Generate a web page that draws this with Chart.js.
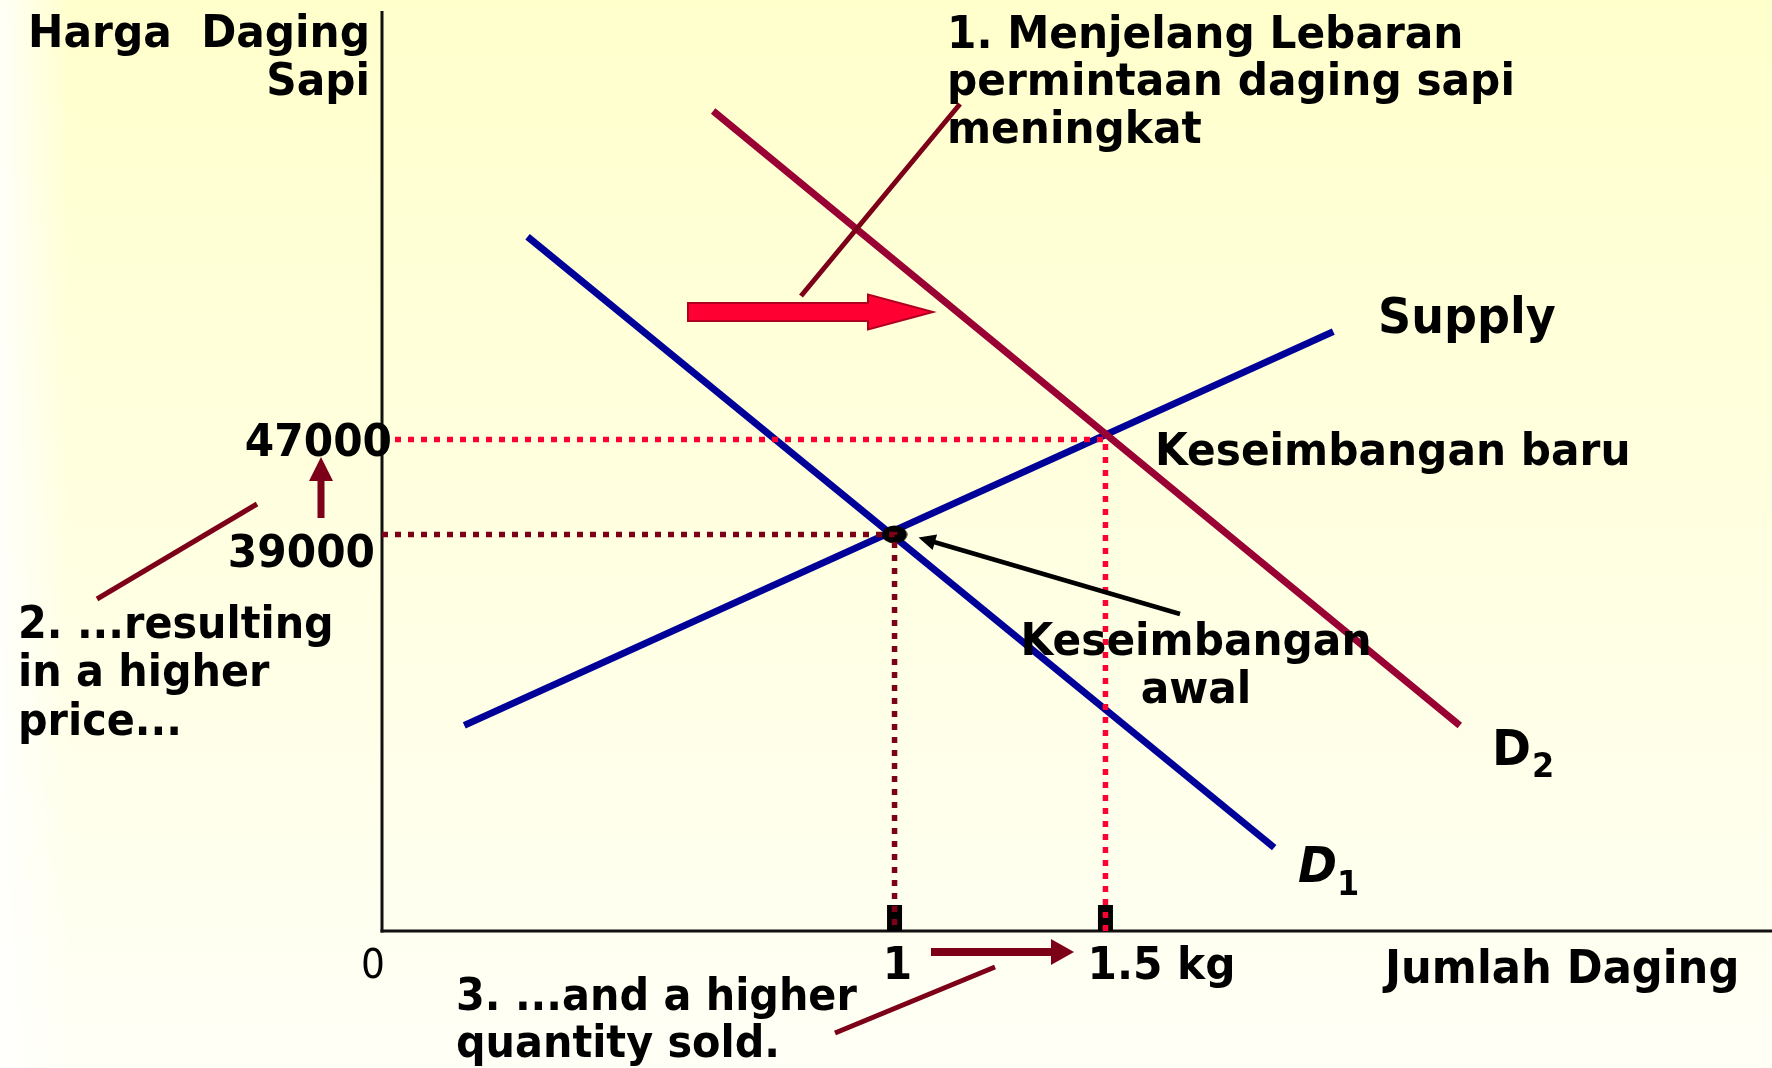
<!DOCTYPE html>
<html>
<head>
<meta charset="utf-8">
<title>Harga daging sapi menjelang Lebaran</title>
<script src="https://cdn.jsdelivr.net/npm/chart.js@4.4.0/dist/chart.umd.min.js"></script>
<style>
    html, body { margin: 0; padding: 0; background: #fff; }
    canvas { display: block; }
</style>
</head>
<body>
<canvas id="chart" width="1772" height="1068"></canvas>
<script>
'use strict';

// jumlah daging (kg) dan harga (Rp)
var qtyTicks = [1, 1.5];
var qtyLabels = ['1', '1.5 kg'];
var priceTicks = [47000, 39000];
var priceLabels = ['47000', '39000'];

var supplyQty = [-0.02, 2.04];
var supplyPrice = [22900, 56100];
var d1Qty = [0.13, 1.90];
var d1Price = [64100, 12600];
var d2Qty = [0.57, 2.34];
var d2Price = [74700, 22900];

// keseimbangan awal, keseimbangan baru
var eqQty = [1, 1.5];
var eqPrice = [39000, 47000];

var xMin = -0.215, xMax = 3.054;
var yMin = 5570, yMax = 83130;

var BLUE = '#000099';
var CRIMSON = '#990033';
var MAROON = '#7d0019';
var RED = '#ff0033';

function toPoints(xs, ys) {
    return xs.map(function (x, i) { return { x: x, y: ys[i] }; });
}

// titik keseimbangan awal agak lonjong
var dot = document.createElement('canvas');
dot.width = 26;
dot.height = 19;
(function () {
    let c = dot.getContext('2d');
    c.fillStyle = '#000';
    c.beginPath();
    c.ellipse(13, 9.5, 12.5, 9, 0, 0, Math.PI * 2);
    c.fill();
})();

function text(ctx, str, x, y, size, align, style) {
    ctx.save();
    ctx.font = (style || 'bold') + ' ' + size + 'px "DejaVu Sans"';
    ctx.textAlign = align || 'left';
    ctx.textBaseline = 'alphabetic';
    ctx.fillStyle = '#000';
    ctx.translate(x, y);
    ctx.scale(0.94, 1);
    ctx.fillText(str, 0, 0);
    ctx.restore();
}

function line(ctx, x1, y1, x2, y2, color, width) {
    ctx.save();
    ctx.strokeStyle = color;
    ctx.lineWidth = width;
    ctx.beginPath();
    ctx.moveTo(x1, y1);
    ctx.lineTo(x2, y2);
    ctx.stroke();
    ctx.restore();
}

// panah: batang + kepala segitiga, arah dari (x1,y1) ke ujung (x2,y2)
function arrow(ctx, x1, y1, x2, y2, shaft, headLen, headHalf, fill, stroke) {
    let ang = Math.atan2(y2 - y1, x2 - x1);
    let len = Math.hypot(x2 - x1, y2 - y1);
    ctx.save();
    ctx.translate(x1, y1);
    ctx.rotate(ang);
    ctx.beginPath();
    ctx.moveTo(0, -shaft / 2);
    ctx.lineTo(len - headLen, -shaft / 2);
    ctx.lineTo(len - headLen, -headHalf);
    ctx.lineTo(len, 0);
    ctx.lineTo(len - headLen, headHalf);
    ctx.lineTo(len - headLen, shaft / 2);
    ctx.lineTo(0, shaft / 2);
    ctx.closePath();
    ctx.fillStyle = fill;
    ctx.fill();
    if (stroke) {
        ctx.strokeStyle = stroke;
        ctx.lineWidth = 2;
        ctx.stroke();
    }
    ctx.restore();
}

var diagram = {
    id: 'diagram',
    beforeDraw: function (chart) {
        let ctx = chart.ctx;
        let w = chart.width, h = chart.height;
        let g = ctx.createLinearGradient(0, 0, 0, h);
        g.addColorStop(0, '#ffffcc');
        g.addColorStop(1, '#fffff6');
        ctx.save();
        ctx.fillStyle = g;
        ctx.fillRect(0, 0, w, h);
        let side = ctx.createLinearGradient(0, 0, 70, 0);
        side.addColorStop(0, 'rgba(255,255,255,0.85)');
        side.addColorStop(1, 'rgba(255,255,255,0)');
        ctx.fillStyle = side;
        ctx.fillRect(0, 0, 70, h);
        ctx.restore();
    },
    beforeDatasetsDraw: function (chart) {
        let ctx = chart.ctx;
        let xs = chart.scales.x, ys = chart.scales.y;
        let x0 = xs.getPixelForValue(xMin);
        let y0 = ys.getPixelForValue(yMin);
        // sumbu
        line(ctx, x0, ys.getPixelForValue(yMax), x0, y0 + 1.5, '#111', 3);
        line(ctx, x0 - 1.5, y0, chart.width, y0, '#111', 3);
        // penanda jumlah di sumbu x
        ctx.save();
        ctx.fillStyle = '#000';
        qtyTicks.forEach(function (q) {
            ctx.fillRect(xs.getPixelForValue(q) - 7.5, y0 - 26, 15, 26);
        });
        ctx.restore();
    },
    afterDatasetsDraw: function (chart) {
        let ctx = chart.ctx;
        let xs = chart.scales.x, ys = chart.scales.y;
        let x0 = xs.getPixelForValue(xMin);
        let y0 = ys.getPixelForValue(yMin);

        // label sumbu
        text(ctx, 'Harga  Daging', 370, 47, 45, 'right');
        text(ctx, 'Sapi', 370, 95, 45, 'right');
        text(ctx, 'Jumlah Daging', 1385, 983, 46);

        // label harga
        text(ctx, priceLabels[0], x0 + 10, ys.getPixelForValue(priceTicks[0]) + 16, 45, 'right');
        text(ctx, priceLabels[1], x0 - 7, ys.getPixelForValue(priceTicks[1]) + 33, 45, 'right');

        // label jumlah
        text(ctx, '0', x0 - 9, y0 + 47, 40, 'center', 'normal');
        text(ctx, qtyLabels[0], xs.getPixelForValue(qtyTicks[0]) + 3, y0 + 48, 45, 'center');
        text(ctx, qtyLabels[1], xs.getPixelForValue(qtyTicks[1]) - 18, y0 + 48, 45, 'left');

        // nama kurva
        text(ctx, 'Supply', 1378, 333, 49);
        text(ctx, 'D', 1492, 765, 50);
        text(ctx, '2', 1532, 777, 34);
        text(ctx, 'D', 1298, 882, 50, 'left', 'italic bold');
        text(ctx, '1', 1337, 895, 34);

        // keterangan keseimbangan
        text(ctx, 'Keseimbangan baru', 1155, 465, 45);
        text(ctx, 'Keseimbangan', 1196, 655, 45, 'center');
        text(ctx, 'awal', 1196, 703, 45, 'center');
        arrow(ctx, 1180, 614, xs.getPixelForValue(eqQty[0]) + 24, ys.getPixelForValue(eqPrice[0]) + 3, 4.5, 17, 8, '#000');

        // 1. permintaan naik
        text(ctx, '1. Menjelang Lebaran', 947, 48, 45);
        text(ctx, 'permintaan daging sapi', 947, 95, 45);
        text(ctx, 'meningkat', 947, 143, 45);
        line(ctx, 801, 296, 960, 104, MAROON, 5);
        arrow(ctx, 688, 312, 933, 312, 18, 65, 17.5, RED, '#b0001f');

        // 2. harga naik
        text(ctx, '2. ...resulting', 18, 638, 44);
        text(ctx, 'in a higher', 18, 686, 44);
        text(ctx, 'price...', 18, 735, 44);
        line(ctx, 97, 599, 257, 504, MAROON, 5);
        arrow(ctx, 321, 518, 321, 457, 7, 24, 12, MAROON);

        // 3. jumlah naik
        text(ctx, '3. ...and a higher', 456, 1010, 44);
        text(ctx, 'quantity sold.', 456, 1057, 44);
        line(ctx, 835, 1033, 995, 967, MAROON, 5);
        arrow(ctx, 931, 952, 1074, 952, 8, 23, 13, MAROON);
    }
};

var eqOld = toPoints([eqQty[0]], [eqPrice[0]]);
var eqNew = toPoints([eqQty[1]], [eqPrice[1]]);

new Chart(document.getElementById('chart'), {
    type: 'scatter',
    data: {
        datasets: [{
            label: 'harga baru',
            data: [{ x: xMin, y: eqNew[0].y }, eqNew[0], { x: eqNew[0].x, y: yMin }],
            showLine: true,
            borderColor: RED,
            borderWidth: 5.5,
            borderDash: [6, 7],
            pointRadius: 0
        }, {
            label: 'harga awal',
            data: [{ x: xMin, y: eqOld[0].y }, eqOld[0], { x: eqOld[0].x, y: yMin }],
            showLine: true,
            borderColor: MAROON,
            borderWidth: 5.5,
            borderDash: [6, 7],
            pointRadius: 0
        }, {
            label: 'keseimbangan awal',
            data: eqOld,
            pointStyle: dot,
            pointRadius: 10
        }, {
            label: 'D2',
            data: toPoints(d2Qty, d2Price),
            showLine: true,
            borderColor: CRIMSON,
            borderWidth: 7,
            pointRadius: 0
        }, {
            label: 'D1',
            data: toPoints(d1Qty, d1Price),
            showLine: true,
            borderColor: BLUE,
            borderWidth: 7,
            pointRadius: 0
        }, {
            label: 'Supply',
            data: toPoints(supplyQty, supplyPrice),
            showLine: true,
            borderColor: BLUE,
            borderWidth: 7,
            pointRadius: 0
        }]
    },
    options: {
        responsive: false,
        animation: false,
        layout: { padding: { left: 382, right: 0, top: 10, bottom: 137 } },
        scales: {
            x: { type: 'linear', display: false, min: xMin, max: xMax },
            y: { type: 'linear', display: false, min: yMin, max: yMax }
        },
        plugins: {
            legend: { display: false },
            tooltip: { enabled: false }
        }
    },
    plugins: [diagram]
});
</script>
</body>
</html>
